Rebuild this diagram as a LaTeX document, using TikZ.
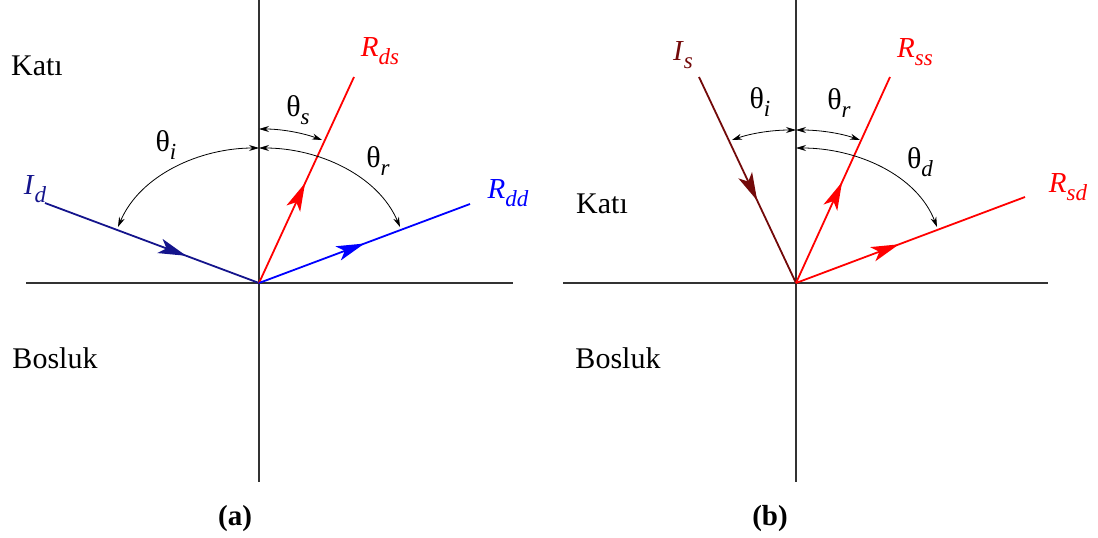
\documentclass[tikz,border=0pt]{standalone}
\usepackage{fontspec}
\setmainfont{Liberation Serif}
\usetikzlibrary{arrows.meta,decorations.markings}
\definecolor{navyc}{RGB}{20,20,140}
\definecolor{bluec}{RGB}{0,0,255}
\definecolor{redc}{RGB}{255,0,0}
\definecolor{maroonc}{RGB}{115,10,10}
\newcommand\vlab[2]{\textit{#1}\raisebox{-0.3em}{\fontsize{23}{24}\selectfont\textit{#2}}}
\newcommand\tlab[1]{θ\raisebox{-0.25em}{\fontsize{23}{24}\selectfont\textit{#1}}}
\begin{document}
\begin{tikzpicture}[x=1pt,y=-1pt,
  axis/.style={line width=1.4pt, draw=black!80},
  vec/.style={line width=1.8pt},
  midarrow/.style={postaction={decorate}, decoration={markings, mark=at position #1 with {\arrow{Stealth[length=28pt,width=15pt,inset=7pt]}}}},
  angarc/.style={line width=0.8pt, {Stealth[length=10pt,width=6pt]}-{Stealth[length=10pt,width=6pt]}},
  txt/.style={font=\fontsize{30}{32}\selectfont, inner sep=0pt},
  sym/.style={font=\fontsize{29}{32}\selectfont, inner sep=0pt},
  thsym/.style={font=\fontsize{30}{32}\selectfont, inner sep=0pt},
  captxt/.style={font=\fontsize{29}{32}\selectfont\bfseries, inner sep=0pt}]
\useasboundingbox (0,0) rectangle (1098,538);

% ---------- (a) ----------
\coordinate (O1) at (259,283);
\coordinate (v1t) at (259,0);
\coordinate (v1b) at (259,482);
\coordinate (h1l) at (26,283);
\coordinate (h1r) at (513,283);
\draw[axis] (v1t) -- (v1b);
\draw[axis] (h1l) -- (h1r);

\coordinate (Id) at (45,203);
\coordinate (Rds) at (354,77);
\coordinate (Rdd) at (470,204);
\draw[vec, navyc, midarrow=0.66] (Id) -- (O1);
\draw[vec, redc, midarrow=0.485] (O1) -- (Rds);
\draw[vec, bluec, midarrow=0.5] (O1) -- (Rdd);

\coordinate (a1top) at (259,148);
\coordinate (a1i) at (118,227);
\coordinate (a1r) at (400,227);
\coordinate (a1s0) at (259,129);
\coordinate (a1s) at (322,140);
\draw[angarc] (a1top) .. controls (200,148) and (140,175) .. (a1i);
\draw[angarc] (a1top) .. controls (318,148) and (378,175) .. (a1r);
\draw[angarc] (a1s0) .. controls (282,129) and (303,133) .. (a1s);

\node[txt] (kat1) at (37,66) {Katı};
\node[txt] (bos1) at (55,358) {Bosluk};
\node[sym, navyc] (lId) at (35,189) {\vlab{I}{d}};
\node[sym, redc] (lRds) at (380,51) {\vlab{R}{ds}};
\node[sym, bluec] (lRdd) at (508,193) {\vlab{R}{dd}};
\node[thsym] (t1i) at (166,145) {\tlab{i}};
\node[thsym] (t1s) at (298,110) {\tlab{s}};
\node[thsym] (t1r) at (378,161) {\tlab{r}};
\node[captxt] (capa) at (235,519) {(a)};

% ---------- (b) ----------
\coordinate (O2) at (796,283);
\coordinate (v2t) at (796,0);
\coordinate (v2b) at (796,482);
\coordinate (h2l) at (563,283);
\coordinate (h2r) at (1048,283);
\draw[axis] (v2t) -- (v2b);
\draw[axis] (h2l) -- (h2r);

\coordinate (Is) at (699,77);
\coordinate (Rss) at (890,77);
\coordinate (Rsd) at (1025,197);
\draw[vec, maroonc, midarrow=0.6] (Is) -- (O2);
\draw[vec, redc, midarrow=0.49] (O2) -- (Rss);
\draw[vec, redc, midarrow=0.45] (O2) -- (Rsd);

\coordinate (a2top) at (796,130);
\coordinate (a2i) at (732,140);
\coordinate (a2r) at (860,140);
\coordinate (a2d0) at (796,148);
\coordinate (a2d) at (937,227);
\draw[angarc] (a2top) .. controls (773,130) and (752,133) .. (a2i);
\draw[angarc] (a2top) .. controls (819,130) and (840,133) .. (a2r);
\draw[angarc] (a2d0) .. controls (857,148) and (917,175) .. (a2d);

\node[txt] (kat2) at (602,204) {Katı};
\node[txt] (bos2) at (618,358) {Bosluk};
\node[sym, maroonc] (lIs) at (683,55) {\vlab{I}{s}};
\node[sym, redc] (lRss) at (915,52) {\vlab{R}{ss}};
\node[sym, redc] (lRsd) at (1068,187) {\vlab{R}{sd}};
\node[thsym] (t2i) at (760,102) {\tlab{i}};
\node[thsym] (t2r) at (839,103) {\tlab{r}};
\node[thsym] (t2d) at (920,162) {\tlab{d}};
\node[captxt] (capb) at (770,519) {(b)};
\end{tikzpicture}
\end{document}
